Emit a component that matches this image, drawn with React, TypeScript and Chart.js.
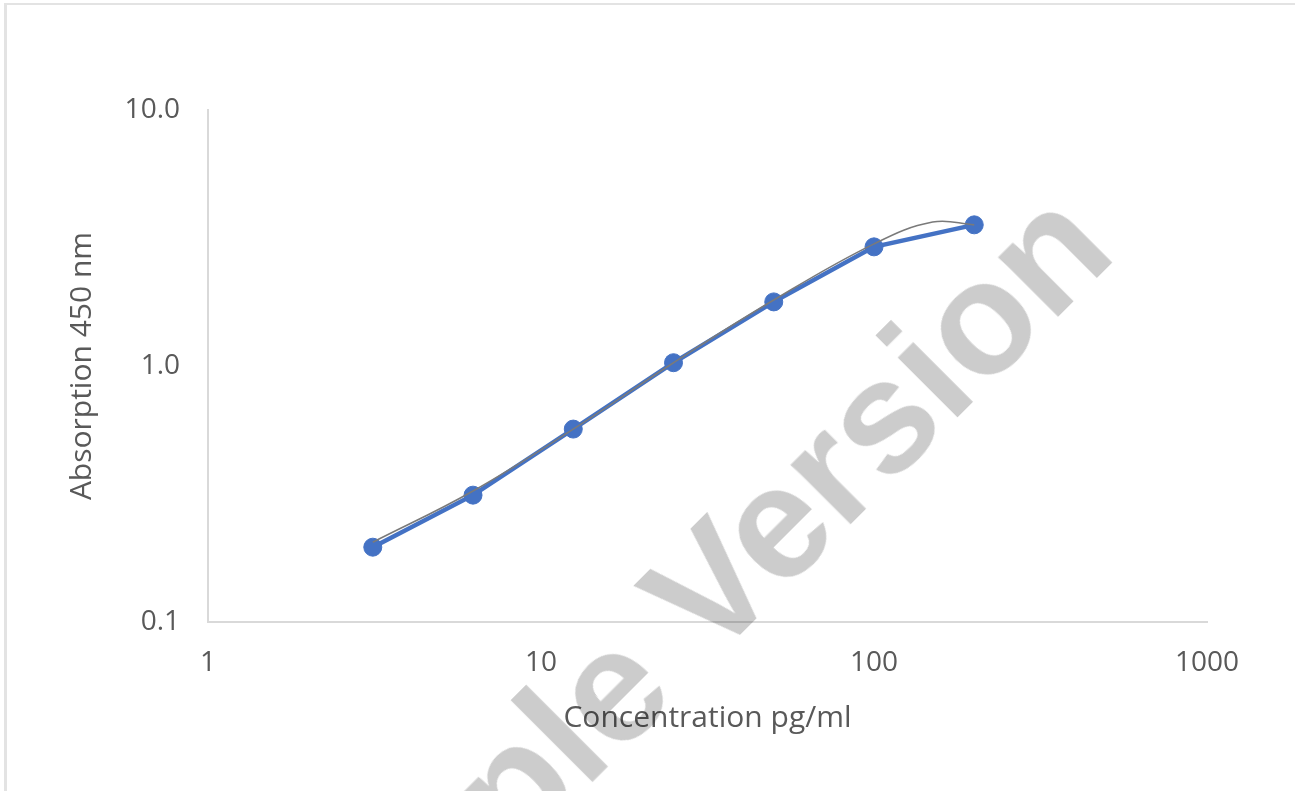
import React, { useEffect, useRef } from "react";
import { Chart, registerables } from "chart.js";

Chart.register(...registerables);

// ---- Data ----
const concentrations = [3.125, 6.25, 12.5, 25, 50, 100, 200];
const absorptions = [0.196, 0.313, 0.567, 1.03, 1.78, 2.92, 3.56];

// thin gray trendline (at these concentrations)
const trendConcentrations = [3.125, 6.25, 12.5, 25, 50, 100, 150, 200];
const trendAbsorptions = [0.205, 0.325, 0.567, 1.03, 1.81, 3.0, 3.65, 3.56];

const xTickValues = [1, 10, 100, 1000];
const xTickLabels = ["1", "10", "100", "1000"];
const yTickValues = [0.1, 1, 10];
const yTickLabels = ["0.1", "1.0", "10.0"];

const xTitle = "Concentration pg/ml";
const yTitle = "Absorption 450 nm";
const watermarkText = "Sample Version";

const FONT = "'Open Sans', 'Noto Sans', sans-serif";
const TEXT_COLOR = "#595959";
const AXIS_COLOR = "#d9d9d9";

export default function App() {
  const canvasRef = useRef<HTMLCanvasElement | null>(null);

  useEffect(() => {
    const canvas = canvasRef.current;
    if (!canvas) return;
    const chart = new Chart(canvas, {
      type: "line",
      data: {
        datasets: [
          {
            label: "Trend",
            data: trendConcentrations.map((x, i) => ({ x, y: trendAbsorptions[i] })),
            borderColor: "#7a7a7a",
            borderWidth: 1.6,
            pointRadius: 0,
            tension: 0.4,
            fill: false,
          },
          {
            label: "Absorption",
            data: concentrations.map((x, i) => ({ x, y: absorptions[i] })),
            borderColor: "#4472C4",
            backgroundColor: "#4472C4",
            borderWidth: 4.5,
            pointRadius: 9,
            pointBorderWidth: 1,
            pointBorderColor: "#4472C4",
            pointBackgroundColor: "#4472C4",
            tension: 0,
            fill: false,
          },
        ],
      },
      options: {
        animation: false,
        responsive: false,
        devicePixelRatio: 1,
        layout: { padding: { top: 110, right: 88, left: 0, bottom: 0 } },
        plugins: {
          legend: { display: false },
          tooltip: { enabled: false },
        },
        scales: {
          x: {
            type: "logarithmic",
            position: "bottom",
            min: 1,
            max: 1000,
            afterBuildTicks: (scale: any) => {
              scale.ticks = xTickValues.map((v) => ({ value: v }));
            },
            afterFit: (scale: any) => {
              scale.height = 169;
            },
            grid: { display: false, drawTicks: false },
            border: { display: true, color: AXIS_COLOR, width: 2 },
            ticks: {
              autoSkip: false,
              maxRotation: 0,
              padding: 24,
              color: TEXT_COLOR,
              font: { family: FONT, size: 28 },
              callback: (value: any) => xTickLabels[xTickValues.indexOf(Number(value))],
            },
            title: {
              display: true,
              text: xTitle,
              color: TEXT_COLOR,
              font: { family: FONT, size: 30 },
              padding: { top: 0, bottom: 55 },
            },
          },
          y: {
            type: "logarithmic",
            position: "left",
            min: 0.1,
            max: 10,
            afterBuildTicks: (scale: any) => {
              scale.ticks = yTickValues.map((v) => ({ value: v }));
            },
            afterFit: (scale: any) => {
              scale.width = 208;
            },
            grid: { display: false, drawTicks: false },
            border: { display: true, color: AXIS_COLOR, width: 2 },
            ticks: {
              autoSkip: false,
              padding: 28,
              color: TEXT_COLOR,
              font: { family: FONT, size: 28 },
              callback: (value: any) => yTickLabels[yTickValues.indexOf(Number(value))],
            },
            title: {
              display: true,
              text: yTitle,
              color: TEXT_COLOR,
              font: { family: FONT, size: 30 },
              padding: { top: 64, bottom: 0 },
            },
          },
        },
      },
    });
    return () => chart.destroy();
  }, []);

  return (
    <div
      style={{
        position: "fixed",
        left: 0,
        top: 0,
        width: 1295,
        height: 791,
        overflow: "hidden",
        background: "#ffffff",
      }}
    >
      <div
        style={{
          position: "absolute",
          left: 4,
          top: 3,
          width: 1400,
          height: 900,
          borderTop: "2px solid #e3e3e3",
          borderLeft: "3px solid #e3e3e3",
          boxSizing: "border-box",
        }}
      />
      <canvas
        ref={canvasRef}
        width={1295}
        height={791}
        style={{ position: "absolute", left: 0, top: 0, width: 1295, height: 791, display: "block" }}
      />
      <div
        style={{
          position: "absolute",
          left: 659,
          top: 638,
          transform: "translate(-50%, -50%) rotate(-45deg)",
          fontFamily: "'Liberation Sans', Arial, sans-serif",
          fontWeight: "bold",
          fontSize: 160,
          lineHeight: 1,
          whiteSpace: "nowrap",
          color: "rgba(0,0,0,0.2)",
          pointerEvents: "none",
        }}
      >
        {watermarkText}
      </div>
    </div>
  );
}
